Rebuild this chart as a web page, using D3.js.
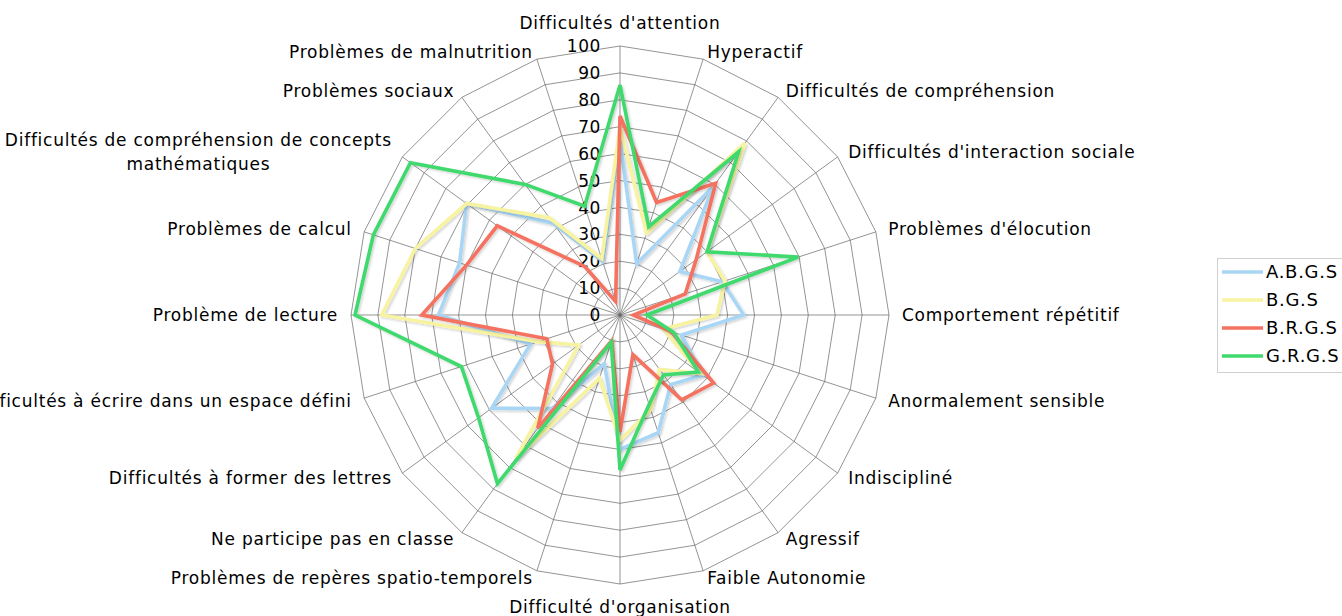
<!DOCTYPE html>
<html>
<head>
<meta charset="utf-8">
<script src="https://cdn.jsdelivr.net/npm/d3@7"></script>
<style>
  body { margin: 0; background: #fff; }
  svg { display: block; font-family: "DejaVu Sans", Verdana, sans-serif; }
</style>
</head>
<body>
<svg id="chart" width="1342" height="616"></svg>
<script>
// Categories, clockwise from the top
var categories = [
  "Difficultés d'attention",
  "Hyperactif",
  "Difficultés de compréhension",
  "Difficultés d'interaction sociale",
  "Problèmes d'élocution",
  "Comportement répétitif",
  "Anormalement sensible",
  "Indiscipliné",
  "Agressif",
  "Faible Autonomie",
  "Difficulté d'organisation",
  "Problèmes de repères spatio-temporels",
  "Ne participe pas en classe",
  "Difficultés à former des lettres",
  "Difficultés à écrire dans un espace défini",
  "Problème de lecture",
  "Problèmes de calcul",
  "Difficultés de compréhension de concepts\nmathématiques",
  "Problèmes sociaux",
  "Problèmes de malnutrition"
];

// Series values
var abgs = [65, 20, 59, 27.5, 40, 46, 24, 38, 32, 46, 50, 19, 43, 59, 35, 67.5, 62.7, 70.5, 42, 21];
var bgs  = [70, 32, 79, 40, 41, 36, 17, 37, 25, 37, 46.5, 24.7, 66, 19, 32, 88.6, 80, 70.5, 44.7, 22];
var brgs = [74, 44, 60.5, 35, 25.5, 5, 20, 43, 39, 15.5, 43.5, 10, 52, 31, 28.6, 73.7, 60, 56.4, 22.3, 5.3];
var grgs = [85.5, 34.5, 75, 40, 69.6, 10, 21, 36, 27.5, 35, 57.6, 10.6, 77.5, 65, 62, 98.5, 96.4, 96.3, 60, 42.5];

var seriesNames = ["A.B.G.S", "B.G.S", "B.R.G.S", "G.R.G.S"];
var tickValues = [0, 10, 20, 30, 40, 50, 60, 70, 80, 90, 100];

var series = [
  { name: seriesNames[0], values: abgs, color: "#a9d6f5" },
  { name: seriesNames[1], values: bgs,  color: "#f7f3a0" },
  { name: seriesNames[2], values: brgs, color: "#f4725f" },
  { name: seriesNames[3], values: grgs, color: "#3fd96d" }
];

var cx = 620, cy = 315, radius = 269;
var svg = d3.select("#chart");

var defs = svg.append("defs");
defs.append("filter")
    .attr("id", "shadow")
    .attr("x", "-10%").attr("y", "-10%")
    .attr("width", "120%").attr("height", "120%")
  .append("feDropShadow")
    .attr("dx", 1.5).attr("dy", 1.5)
    .attr("stdDeviation", 1)
    .attr("flood-color", "#000")
    .attr("flood-opacity", 0.18);

var r = d3.scaleLinear().domain([0, 100]).range([0, radius]);
var angle = d3.scaleLinear().domain([0, categories.length]).range([0, 2 * Math.PI]);

var g = svg.append("g").attr("transform", "translate(" + cx + "," + cy + ")");

// Polygon grid rings
var ring = d3.lineRadial()
    .angle(function(d, i) { return angle(i); })
    .radius(function(d) { return r(d); })
    .curve(d3.curveLinearClosed);

g.selectAll(".ring")
  .data(tickValues.slice(1))
  .enter().append("path")
    .attr("class", "ring")
    .attr("d", function(v) { return ring(categories.map(function() { return v; })); })
    .attr("fill", "none")
    .attr("stroke", "#666")
    .attr("stroke-width", 0.7);

// Spokes
g.selectAll(".spoke")
  .data(categories)
  .enter().append("line")
    .attr("class", "spoke")
    .attr("x1", 0).attr("y1", 0)
    .attr("x2", function(d, i) { return r(100) * Math.sin(angle(i)); })
    .attr("y2", function(d, i) { return -r(100) * Math.cos(angle(i)); })
    .attr("stroke", "#666")
    .attr("stroke-width", 0.7);

// Tick labels on the top spoke
g.selectAll(".tick")
  .data(tickValues)
  .enter().append("text")
    .attr("class", "tick")
    .attr("x", -19)
    .attr("y", function(v) { return -r(v); })
    .attr("dy", "0.36em")
    .attr("text-anchor", "end")
    .attr("font-size", 17)
    .attr("letter-spacing", 0.6)
    .attr("fill", "#000")
    .text(function(v) { return v; });

// Series lines
var line = d3.lineRadial()
    .angle(function(d, i) { return angle(i); })
    .radius(function(d) { return r(d); })
    .curve(d3.curveLinearClosed);

g.selectAll(".series")
  .data(series)
  .enter().append("path")
    .attr("class", "series")
    .attr("d", function(s) { return line(s.values); })
    .attr("fill", "none")
    .attr("stroke", function(s) { return s.color; })
    .attr("stroke-width", 3.6)
    .attr("stroke-linejoin", "miter")
    .attr("filter", "url(#shadow)");

// Category labels
categories.forEach(function(label, i) {
  var a = angle(i);
  var s = Math.sin(a), c = Math.cos(a);
  var lx, ly, anchor;
  if (Math.abs(s) < 0.01) {
    lx = 0;
    ly = -292 * c;
    anchor = "middle";
  } else {
    lx = 282 * s;
    ly = -277 * c;
    anchor = s > 0 ? "start" : "end";
  }
  var lines = label.split("\n");
  var t = g.append("text")
      .attr("font-size", 17)
      .attr("letter-spacing", 0.75)
      .attr("fill", "#000");
  if (lines.length === 1) {
    t.attr("x", lx).attr("y", ly).attr("dy", "0.35em")
      .attr("text-anchor", anchor).text(label);
  } else {
    // multi-line block, centred lines, block right edge at the anchor
    t.attr("text-anchor", "middle");
    var spans = lines.map(function(l, k) {
      return t.append("tspan").attr("x", 0)
        .attr("y", ly + (k - (lines.length - 1) / 2) * 24)
        .attr("dy", "0.35em").text(l);
    });
    var w = d3.max(spans, function(sp) { return sp.node().getComputedTextLength(); });
    spans.forEach(function(sp) { sp.attr("x", lx - w / 2); });
  }
});

// Legend
var legend = svg.append("g").attr("transform", "translate(1217,258)");
legend.append("rect")
    .attr("x", 0.5).attr("y", 0.5)
    .attr("width", 140).attr("height", 114)
    .attr("fill", "#fff")
    .attr("stroke", "#d0d0d0");

var item = legend.selectAll(".item")
  .data(series)
  .enter().append("g")
    .attr("class", "item")
    .attr("transform", function(d, i) { return "translate(0," + (14 + i * 28) + ")"; });

item.append("line")
    .attr("x1", 5).attr("x2", 46)
    .attr("y1", 0).attr("y2", 0)
    .attr("stroke", function(d) { return d.color; })
    .attr("stroke-width", 3.6);

item.append("text")
    .attr("x", 49).attr("y", 0)
    .attr("dy", "0.36em")
    .attr("font-size", 18)
    .attr("letter-spacing", 0.7)
    .attr("fill", "#000")
    .text(function(d) { return d.name; });
</script>
</body>
</html>
